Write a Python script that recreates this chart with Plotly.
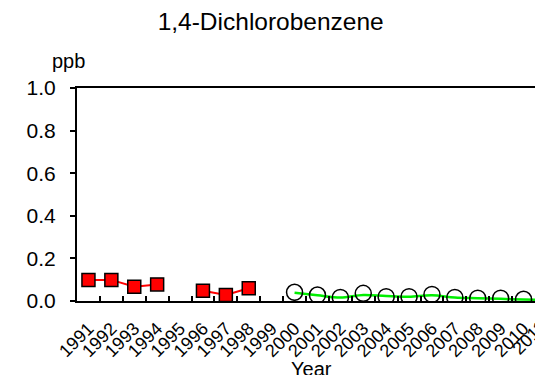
import plotly.graph_objects as go

years = [str(y) for y in range(1991, 2012)]
red_years = ["1991", "1992", "1993", "1994", "1995", "1996", "1997", "1998"]
red_vals = [0.099, 0.099, 0.067, 0.078, None, 0.048, 0.028, 0.060]
circ_years = [str(y) for y in range(2000, 2012)]
circ_vals = [0.041, 0.028, 0.017, 0.036, 0.020, 0.020, 0.031, 0.017, 0.013, 0.013, 0.008, 0.006]
trend_vals = [0.039, 0.027, 0.016, 0.028, 0.023, 0.020, 0.027, 0.016, 0.013, 0.010, 0.007, 0.005]
yticks = [0.0, 0.2, 0.4, 0.6, 0.8, 1.0]

FONT = "Liberation Sans, Arial, sans-serif"

fig = go.Figure()
fig.add_trace(go.Scatter(
    x=red_years, y=red_vals, mode="lines+markers", connectgaps=False,
    line=dict(color="#ff0000", width=2),
    marker=dict(symbol="square", size=13, color="#ff0000", line=dict(color="black", width=1.5)),
    showlegend=False, cliponaxis=False))
fig.add_trace(go.Scatter(
    x=circ_years, y=trend_vals, mode="lines", line=dict(color="#00ee00", width=2.5, shape="spline"),
    showlegend=False))
fig.add_trace(go.Scatter(
    x=circ_years, y=circ_vals, mode="markers",
    marker=dict(symbol="circle-open", size=16, color="black", line=dict(color="black", width=1.5)),
    showlegend=False))

fig.update_layout(
    width=535, height=375,
    margin=dict(l=77, r=0, t=88, b=74, autoexpand=False),
    paper_bgcolor="white", plot_bgcolor="white",
    font=dict(family=FONT, color="black"),
    title=dict(text="1,4-Dichlorobenzene", x=0.506, xanchor="center", y=1 - 21 / 375, yanchor="middle",
               font=dict(size=24.5, family=FONT, color="black")),
)
fig.update_xaxes(
    type="category", categoryorder="array", categoryarray=years,
    range=[-0.5, 19.5], tickmode="linear", tick0=0, dtick=1, automargin=False,
    tickson="boundaries", ticks="inside", ticklen=5, tickwidth=2, tickcolor="black",
    showline=True, linecolor="black", linewidth=2, mirror=True, showgrid=False, zeroline=False,
    tickangle=-45, tickfont=dict(size=18, family=FONT, color="black"), ticklabelstandoff=8,
)
fig.update_yaxes(
    range=[0, 1.0], tickvals=yticks, ticktext=[f"{v:.1f}" for v in yticks], automargin=False,
    ticks="outside", ticklen=5, tickwidth=2, tickcolor="black",
    showline=True, linecolor="black", linewidth=2, showgrid=False, zeroline=False,
    tickfont=dict(size=21, family=FONT, color="black"), ticklabelstandoff=10,
)
fig.add_annotation(text="ppb", xref="paper", yref="paper", x=(68 - 77) / 458, y=1.0, yshift=27,
                   showarrow=False, xanchor="center", yanchor="middle",
                   font=dict(size=20, family=FONT, color="black"))
fig.add_annotation(text="Year", xref="paper", yref="paper", x=(311 - 77) / 458, y=(301 - 369) / 213,
                   showarrow=False, xanchor="center", yanchor="middle",
                   font=dict(size=20, family=FONT, color="black"))
fig.add_annotation(text=years[-1], xref="paper", yref="paper", x=(529 - 77) / 458, y=(301 - 338) / 213,
                   textangle=-45, showarrow=False, xanchor="center", yanchor="middle",
                   font=dict(size=18, family=FONT, color="black"))

fig.write_html("out.html")
